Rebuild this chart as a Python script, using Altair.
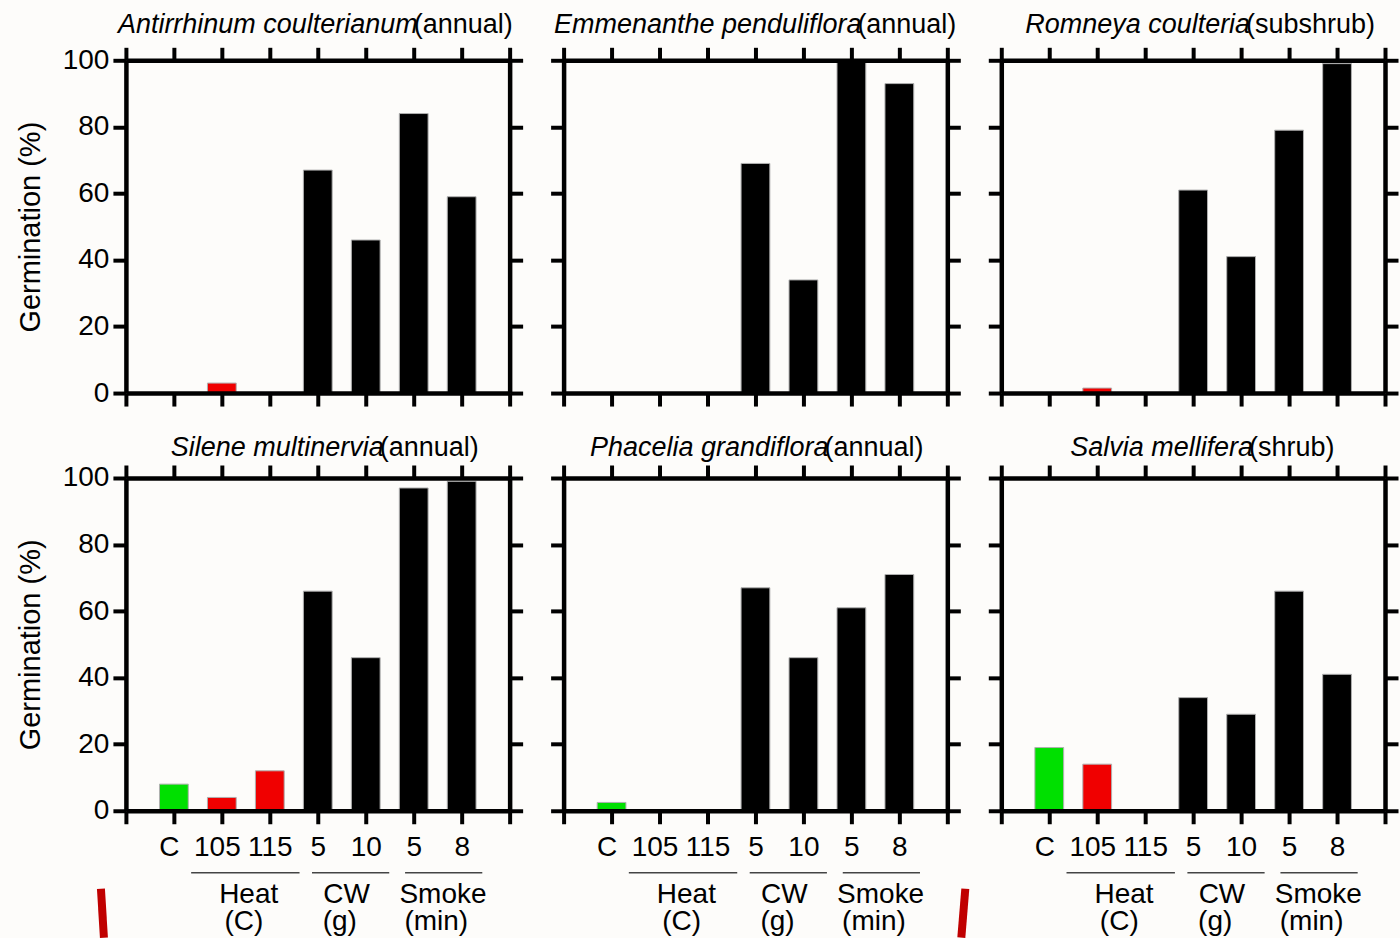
import json
import altair as alt
import pandas as pd

# ---------------- data ----------------
species = ["Antirrhinum coulterianum", "Emmenanthe penduliflora", "Romneya coulteria",
           "Silene multinervia", "Phacelia grandiflora", "Salvia mellifera"]
habits = ["(annual)", "(annual)", "(subshrub)", "(annual)", "(annual)", "(shrub)"]
treatments = ["C", "105", "115", "5", "10", "5", "8"]
bar_colors = ["#00e000", "#f00000", "#f00000", "#000000", "#000000", "#000000", "#000000"]

antirrhinum = [0, 3, 0, 67, 46, 84, 59]
emmenanthe = [0, 0, 0, 69, 34, 100, 93]
romneya = [0, 1.5, 0, 61, 41, 79, 99]
silene = [8, 4, 12, 66, 46, 97, 99]
phacelia = [2.5, 0, 0, 67, 46, 61, 71]
salvia = [19, 14, 0, 34, 29, 66, 41]
series = [antirrhinum, emmenanthe, romneya, silene, phacelia, salvia]

groups = ["Heat", "CW", "Smoke"]
units = ["(C)", "(g)", "(min)"]

# ---------------- layout ----------------
FONT = "Liberation Sans"
W, H = 384, 333
group_start = [1.36, 3.88, 5.82]
group_end = [3.62, 5.49, 7.43]
group_name_x = [2.56, 4.6, 6.61]
group_unit_x = [2.46, 4.46, 6.47]
title_split = [288, 294, 245, 254, 261, 248]
title_y = [-27, -22]

label_expr = "datum.value >= 1 && datum.value <= 7 ? " + json.dumps(treatments) + "[datum.value - 1] : ''"
label_offset = {"condition": {"test": "datum.value <= 2", "value": -5}, "value": 0}

common = dict(domainColor="black", domainWidth=4.5, tickColor="black", tickWidth=4,
              tickSize=13, grid=False, zindex=1, labelFont=FONT, labelFontSize=28,
              labelColor="black", title="")

xscale = alt.Scale(domain=[0, 8], nice=False, zero=False)
yscale = alt.Scale(domain=[0, 100], nice=False)


def panel(i):
    row, col = divmod(i, 3)
    df = pd.DataFrame({"pos": list(range(1, 8)), "treatment": treatments,
                       "value": series[i], "color": bar_colors})
    base = alt.Chart(df).transform_calculate(x0="datum.pos - 0.3", x1="datum.pos + 0.3")

    ax_bottom = alt.Axis(orient="bottom", values=list(range(9)), labels=(row == 1),
                         labelExpr=label_expr, labelPadding=10, labelOffset=label_offset,
                         **common)
    ax_top = alt.Axis(orient="top", values=list(range(9)), labels=False, **common)
    left_kw = dict(common)
    if col == 0:
        left_kw["title"] = "Germination (%)"
    ax_left = alt.Axis(orient="left", values=[0, 20, 40, 60, 80, 100], labels=(col == 0),
                       labelPadding=4, titleFont=FONT, titleFontSize=29,
                       titleFontWeight="normal", titleColor="black", titlePadding=17,
                       **left_kw)
    ax_right = alt.Axis(orient="right", values=[0, 20, 40, 60, 80, 100], labels=False, **common)

    bars = base.mark_bar(stroke="#b0b0b0", strokeWidth=1).encode(
        x=alt.X("x0:Q", scale=xscale, axis=ax_bottom),
        x2="x1:Q",
        y=alt.Y("value:Q", scale=yscale, axis=ax_left),
        y2=alt.datum(0),
        color=alt.Color("color:N", scale=None),
    )
    ghost = base.mark_bar(opacity=0).encode(
        x=alt.X("x0:Q", scale=xscale, axis=ax_top),
        x2="x1:Q",
        y=alt.Y("value:Q", scale=yscale, axis=ax_right),
        y2=alt.datum(0),
    )

    tdf = pd.DataFrame({"sp": [species[i]], "hab": [habits[i]]})
    sp_text = alt.Chart(tdf).mark_text(font=FONT, fontSize=27, fontStyle="italic",
                                       align="right", baseline="alphabetic", color="black").encode(
        text="sp:N", x=alt.value(title_split[i] + 4), y=alt.value(title_y[row]))
    hab_text = alt.Chart(tdf).mark_text(font=FONT, fontSize=27, align="left",
                                        baseline="alphabetic", color="black").encode(
        text="hab:N", x=alt.value(title_split[i]), y=alt.value(title_y[row]))

    layers = [bars, ghost, sp_text, hab_text]

    if row == 1:
        gdf = pd.DataFrame({"group": groups, "unit": units, "start": group_start,
                            "end": group_end, "name_x": group_name_x, "unit_x": group_unit_x})
        g = alt.Chart(gdf)
        layers.append(g.mark_rule(color="#444444", strokeWidth=1.5).encode(
            x=alt.X("start:Q", scale=xscale, axis=None), x2="end:Q", y=alt.value(395)))
        layers.append(g.mark_text(font=FONT, fontSize=28, baseline="alphabetic", color="black").encode(
            x=alt.X("name_x:Q", scale=xscale, axis=None), y=alt.value(425), text="group:N"))
        layers.append(g.mark_text(font=FONT, fontSize=28, baseline="alphabetic", color="black").encode(
            x=alt.X("unit_x:Q", scale=xscale, axis=None), y=alt.value(452), text="unit:N"))
        if col == 0:
            layers.append(alt.Chart(tdf).mark_rule(color="#c00000", strokeWidth=8).encode(
                x=alt.value(-25), x2=alt.value(-22), y=alt.value(411), y2=alt.value(460)))
        if col == 1:
            layers.append(alt.Chart(tdf).mark_rule(color="#c00000", strokeWidth=8).encode(
                x=alt.value(402), x2=alt.value(398), y=alt.value(411), y2=alt.value(460)))

    return alt.layer(*layers).resolve_axis(x="independent", y="independent").properties(
        width=W, height=H)


panels = [panel(i) for i in range(6)]
chart = alt.concat(*panels, columns=3, spacing={"row": 85, "column": 54}, bounds="flush").properties(
    background="#fdfcfa",
    padding={"left": 16, "top": 11, "right": 0, "bottom": 0},
).configure_view(strokeWidth=0)

chart.save("out.html", embed_options={"renderer": "svg", "actions": False})
